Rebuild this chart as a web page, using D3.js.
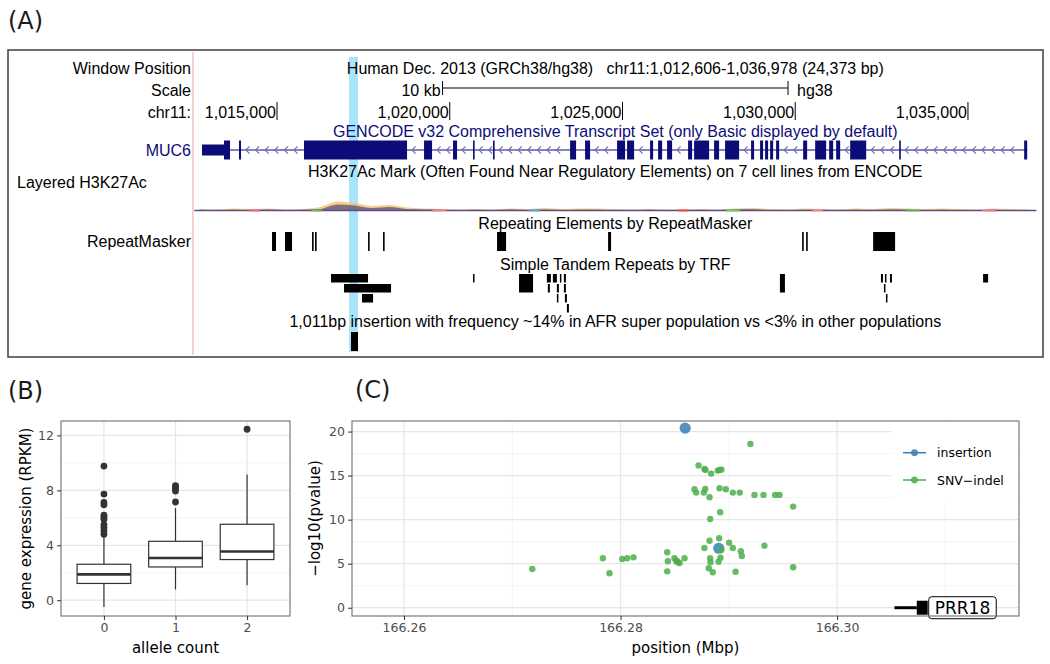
<!DOCTYPE html>
<html><head><meta charset="utf-8">
<script src="https://cdn.jsdelivr.net/npm/d3@7"></script>
<style>
body{margin:0;background:#fff;}
svg{display:block;}
text{white-space:pre;}
</style></head><body>
<svg id="chart" width="1050" height="664"></svg>
<script>
// ================= Panel A data (chr11 positions, kb) =================
const regionKb = [1012.606, 1036.978];
const chrTicksKb = [1015, 1020, 1025, 1030, 1035];
const scaleBarKb = 10;
const highlightKb = [1017.085, 1017.345];
const geneSpanKb = [1012.829, 1036.714];
const utrKb = [[1012.829, 1013.466]];
const exonsKb = [
  [1013.466,1013.640],[1013.900,1013.958],[1015.782,1018.764],[1019.256,1019.488],
  [1020.095,1020.211],[1020.674,1020.703],[1021.253,1021.282],[1023.483,1023.657],
  [1023.917,1024.062],[1024.843,1025.075],[1025.133,1025.336],[1025.799,1025.886],
  [1026.031,1026.147],[1026.291,1026.436],[1026.899,1027.015],[1027.073,1027.507],
  [1027.651,1027.796],[1027.970,1028.375],[1028.722,1028.809],[1028.983,1029.070],
  [1029.128,1029.215],[1029.273,1029.360],[1029.447,1029.534],[1030.229,1030.345],
  [1030.577,1030.895],[1030.982,1031.098],[1031.185,1031.301],[1031.590,1032.054],
  [1033.009,1033.038],[1036.627,1036.714]
];
const h3Pos = [1012.75,1013.25,1013.75,1014.25,1014.75,1015.25,1015.75,1016.25,1016.75,1017.25,
  1017.75,1018.25,1018.75,1019.25,1019.75,1020.25,1020.75,1021.25,1021.75,1022.25,
  1022.75,1023.25,1023.75,1024.25,1024.75,1025.25,1025.75,1026.25,1026.75,1027.25,
  1027.75,1028.25,1028.75,1029.25,1029.75,1030.25,1030.75,1031.25,1031.75,1032.25,
  1032.75,1033.25,1033.75,1034.25,1034.75,1035.25,1035.75,1036.25,1036.75];
const h3Light = [1.5,1,2,1.5,2,1,1.5,3.5,9,7.5,4.5,5.5,3,2,1.5,1,1.5,1,2,1.5,2.5,1.5,2,2,1.5,1,1.5,1,1,1.5,
  1,2,2.5,1.5,1,2,1.5,1,2,1.5,2.5,2,1.5,2,1.5,1,2,1.5,1];
const h3Dark = [0.8,0.5,0.8,0.5,1,0.5,0.8,1.5,6,5,2.5,3.5,1.5,1,0.8,0.5,0.8,0.5,1,0.5,1,0.5,0.8,0.8,0.5,
  0.5,0.8,0.5,0.5,0.8,0.5,1,1.2,0.5,0.5,0.8,0.8,0.5,0.8,0.5,1,0.8,0.5,0.8,0.5,0.5,0.8,0.5,0.5];
const h3BaseSegs = [[1014.2,1014.5,"#ee6677"],[1016.0,1016.3,"#66bb55"],[1019.5,1019.9,"#ff7f7f"],
  [1022.3,1022.6,"#55aadd"],[1026.6,1026.9,"#ee4444"],[1028.0,1028.4,"#66cc66"],
  [1030.5,1030.8,"#ff8888"],[1033.2,1033.6,"#55bb55"],[1035.4,1035.8,"#ee7799"]];
const rmskKb = [[1014.856,1014.971],[1015.232,1015.435],[1016.014,1016.043],[1016.101,1016.130],
  [1017.635,1017.680],[1018.069,1018.110],[1021.369,1021.630],[1024.583,1024.670],
  [1030.200,1030.244],[1030.316,1030.360],[1032.255,1032.891]];
// [start, end, row, rows spanned]
const trfKb = [[1016.564,1017.635,0,1],[1016.940,1018.301,1,1],[1017.461,1017.780,2,1],
  [1020.674,1020.703,0,1],[1022.006,1022.411,0,2],
  [1022.811,1022.927,0,1],[1022.985,1023.101,0,1],[1023.188,1023.217,0,1],[1023.304,1023.362,0,1],
  [1022.840,1022.898,1,1],[1023.101,1023.159,1,1],[1023.304,1023.362,1,1],
  [1023.101,1023.130,2,1],[1023.333,1023.391,2,1],[1023.391,1023.449,3,1],
  [1029.557,1029.702,0,2],
  [1032.481,1032.539,0,1],[1032.597,1032.626,0,1],[1032.742,1032.800,0,1],
  [1032.568,1032.597,1,1],[1032.626,1032.655,2,1],[1035.438,1035.583,0,1]];
const insertionKb = [1017.142, 1017.345];

// ================= Panel B data =================
const alleleCats = ["0","1","2"];
const boxLo  = [-0.5, 0.78, 1.09];
const boxQ1  = [1.22, 2.42, 2.96];
const boxMed = [1.88, 3.07, 3.55];
const boxQ3  = [2.62, 4.29, 5.53];
const boxHi  = [4.65, 6.71, 9.15];
const outliers = [
  [9.77,7.73,7.12,6.95,6.2,6.05,5.9,5.5,5.3,5.05,4.8],
  [8.35,8.25,8.1,7.95,7.15],
  [12.45]
];
const yTicksB = [0,4,8,12];

// ================= Panel C data =================
const snvPos = [166.27185,166.27837,166.27898,166.28016,166.28062,166.28120,166.28431,166.28437,166.28431,
  166.28498,166.28514,166.28522,166.28529,166.28545,166.28591,166.28720,166.28775,166.28785,166.28837,
  166.28683,166.28699,166.28782,166.28769,166.28822,166.28828,166.28775,166.28822,166.28828,166.28831,
  166.28815,166.28852,166.28898,166.28914,166.28932,166.29200,166.28914,166.28972,166.29037,166.29101,
  166.29237,166.29320,166.29428,166.29468,166.29594,166.28920,166.28911,166.29003,166.29037,166.29111,
  166.29120,166.29329,166.28930,166.28923,166.28905,166.29062,166.29594];
const snvVal = [4.40,5.61,3.91,5.53,5.61,5.72,6.29,5.27,4.13,
  5.61,5.34,5.25,5.16,5.08,5.61,16.14,15.76,15.65,15.23,
  13.45,13.07,13.49,13.07,12.55,10.08,6.78,7.61,5.61,5.16,
  4.48,4.02,15.57,15.65,15.68,18.60,13.57,13.45,13.07,13.07,
  12.81,12.81,12.81,12.81,11.48,10.84,7.88,7.39,6.78,6.41,
  5.88,7.05,6.56,5.68,5.23,4.09,4.59];
const insPos = [166.28597, 166.28907];
const insVal = [20.39, 6.75];
const prr18 = {start:166.3053, exonStart:166.30736, end:166.30837, label:"PRR18"};
const xTicksC = [166.26, 166.28, 166.30];
const yTicksC = [0,5,10,15,20];
const legendItems = [["insertion","#377EB8"],["SNV\u2212indel","#4DAF4A"]];

// ================= Drawing =================
const svg = d3.select("#chart");
svg.append("rect").attr("width",1050).attr("height",664).attr("fill","#fff");

const labFont = "'DejaVu Sans', sans-serif";
const ucsc = "'Liberation Sans', Arial, sans-serif";

function panelLabel(t,x,y){
  svg.append("text").attr("x",x).attr("y",y).text(t)
    .attr("font-family",labFont).attr("font-size",24).attr("fill","#1a1a1a");
}
panelLabel("(A)",8,29); panelLabel("(B)",8,399); panelLabel("(C)",355,398);

// ---------- Panel A ----------
const A = svg.append("g");
const gx = d3.scaleLinear().domain(regionKb).range([194.3, 1036.3]);
const cx = (gx.range()[0]+gx.range()[1])/2;

A.append("rect").attr("x",8).attr("y",50).attr("width",1035).attr("height",307)
  .attr("fill","none").attr("stroke","#4a4a4a").attr("stroke-width",1.6);
A.append("rect").attr("x",gx(highlightKb[0])).attr("y",57)
  .attr("width",gx(highlightKb[1])-gx(highlightKb[0])).attr("height",295).attr("fill","#a9e5fa");
A.append("line").attr("x1",193).attr("x2",193).attr("y1",52).attr("y2",355)
  .attr("stroke","#f4b0b0").attr("stroke-width",1.2);

function ut(t,x,y,anchor,color){
  return A.append("text").attr("x",x).attr("y",y).text(t).attr("text-anchor",anchor||"start")
    .attr("font-family",ucsc).attr("font-size",16).attr("fill",color||"#000");
}
ut("Window Position",191,74,"end");
ut("Human Dec. 2013 (GRCh38/hg38)   chr11:1,012,606-1,036,978 (24,373 bp)",cx,74,"middle");
ut("Scale",191,96,"end");
const sb0 = (regionKb[0]+regionKb[1])/2 - scaleBarKb/2, sb1 = sb0 + scaleBarKb;
A.append("line").attr("x1",gx(sb0)).attr("x2",gx(sb1)).attr("y1",88).attr("y2",88).attr("stroke","#000");
[sb0,sb1].forEach(v=>A.append("line").attr("x1",gx(v)).attr("x2",gx(v)).attr("y1",81).attr("y2",95).attr("stroke","#000"));
ut("10 kb",gx(sb0)-2,96,"end");
ut("hg38",gx(sb1)+9,96,"start");
ut("chr11:",191,118,"end");
const fmtBp = d3.format(",");
chrTicksKb.forEach(k=>{
  A.append("line").attr("x1",gx(k)).attr("x2",gx(k)).attr("y1",102).attr("y2",120).attr("stroke","#000");
  ut(fmtBp(Math.round(k*1000)),gx(k)-1,118,"end");
});
const navy = "#0c0c78";
ut("GENCODE v32 Comprehensive Transcript Set (only Basic displayed by default)",cx,137,"middle",navy);
ut("MUC6",191,156,"end",navy);
const gy = 150;
A.append("line").attr("x1",gx(geneSpanKb[0])).attr("x2",gx(geneSpanKb[1])).attr("y1",gy).attr("y2",gy)
  .attr("stroke",navy).attr("stroke-width",1.2);
const blocks = utrKb.concat(exonsKb).map(d=>[gx(d[0]),gx(d[1])]).sort((a,b)=>a[0]-b[0]);
for(let i=0;i<blocks.length-1;i++){
  const s=blocks[i][1], e=blocks[i+1][0];
  for(let p=s+6; p<e-3; p+=9.6){
    A.append("path").attr("d",`M${p+2.5},${gy-3.6}L${p-1},${gy}L${p+2.5},${gy+3.6}`)
      .attr("fill","none").attr("stroke","#6a6ac0").attr("stroke-width",1.1);
  }
}
utrKb.forEach(d=>A.append("rect").attr("x",gx(d[0])).attr("y",gy-5.5)
  .attr("width",gx(d[1])-gx(d[0])).attr("height",11).attr("fill",navy));
exonsKb.forEach(d=>{
  const w=Math.max(1.6,gx(d[1])-gx(d[0]));
  A.append("rect").attr("x",gx(d[0])).attr("y",gy-9.5).attr("width",w).attr("height",19).attr("fill",navy);
});
ut("H3K27Ac Mark (Often Found Near Regulatory Elements) on 7 cell lines from ENCODE",cx,177,"middle");
ut("Layered H3K27Ac",17,188,"start");
const hBase = 210.5;
const h3Data = h3Pos.map((p,i)=>({p, l:h3Light[i], d:h3Dark[i]}));
const areaL = d3.area().x(d=>gx(d.p)).y0(hBase).y1(d=>hBase-d.l).curve(d3.curveMonotoneX);
const areaD = d3.area().x(d=>gx(d.p)).y0(hBase).y1(d=>hBase-d.d).curve(d3.curveMonotoneX);
A.append("path").datum(h3Data).attr("d",areaL).attr("fill","#f7c066").attr("opacity",0.8);
A.append("path").datum(h3Data).attr("d",areaD).attr("fill","#5a4c86").attr("opacity",0.75);
A.append("line").attr("x1",gx(regionKb[0])).attr("x2",gx(regionKb[1])).attr("y1",hBase).attr("y2",hBase)
  .attr("stroke","#5b4f8a").attr("stroke-width",1.6);
h3BaseSegs.forEach(s=>A.append("line").attr("x1",gx(s[0])).attr("x2",gx(s[1])).attr("y1",hBase).attr("y2",hBase)
  .attr("stroke",s[2]).attr("stroke-width",1.8));
ut("Repeating Elements by RepeatMasker",cx,228.5,"middle");
ut("RepeatMasker",191,247,"end");
rmskKb.forEach(d=>{
  const w=Math.max(1.6,gx(d[1])-gx(d[0]));
  A.append("rect").attr("x",gx(d[0])).attr("y",232).attr("width",w).attr("height",19).attr("fill","#000");
});
ut("Simple Tandem Repeats by TRF",cx,270,"middle");
const trfTop = 274, trfRow = 10;
trfKb.forEach(d=>{
  const w=Math.max(1.5,gx(d[1])-gx(d[0]));
  A.append("rect").attr("x",gx(d[0])).attr("y",trfTop+d[2]*trfRow).attr("width",w)
    .attr("height",d[3]*trfRow-1.5).attr("fill","#000");
});
ut("1,011bp insertion with frequency ~14% in AFR super population vs <3% in other populations",cx,327,"middle");
A.append("rect").attr("x",gx(insertionKb[0])).attr("y",332)
  .attr("width",gx(insertionKb[1])-gx(insertionKb[0])).attr("height",19).attr("fill","#000");

// ---------- shared ggplot helpers ----------
const gg = "'DejaVu Sans', sans-serif";
const majorC="#e6e6e6", minorC="#f2f2f2";

// ---------- Panel B ----------
const B = svg.append("g");
const bL=61,bR=290,bT=421,bB=616;
const xB = d3.scalePoint().domain(alleleCats).range([bL,bR]).padding(0.6);
const yB = d3.scaleLinear().domain([-1.15,13.05]).range([bB,bT]);
const bw = xB.step()*0.75;
[2,6,10].forEach(v=>B.append("line").attr("x1",bL).attr("x2",bR).attr("y1",yB(v)).attr("y2",yB(v)).attr("stroke",minorC).attr("stroke-width",0.8));
yTicksB.forEach(v=>B.append("line").attr("x1",bL).attr("x2",bR).attr("y1",yB(v)).attr("y2",yB(v)).attr("stroke",majorC).attr("stroke-width",1.2));
alleleCats.forEach(c=>B.append("line").attr("x1",xB(c)).attr("x2",xB(c)).attr("y1",bT).attr("y2",bB).attr("stroke",majorC).attr("stroke-width",1.2));
alleleCats.forEach((c,i)=>{
  const x=xB(c), st="#333";
  B.append("line").attr("x1",x).attr("x2",x).attr("y1",yB(boxLo[i])).attr("y2",yB(boxQ1[i])).attr("stroke",st).attr("stroke-width",1.2);
  B.append("line").attr("x1",x).attr("x2",x).attr("y1",yB(boxQ3[i])).attr("y2",yB(boxHi[i])).attr("stroke",st).attr("stroke-width",1.2);
  B.append("rect").attr("x",x-bw/2).attr("y",yB(boxQ3[i])).attr("width",bw).attr("height",yB(boxQ1[i])-yB(boxQ3[i]))
    .attr("fill","#fff").attr("stroke",st).attr("stroke-width",1.2);
  B.append("line").attr("x1",x-bw/2).attr("x2",x+bw/2).attr("y1",yB(boxMed[i])).attr("y2",yB(boxMed[i])).attr("stroke",st).attr("stroke-width",2.6);
  outliers[i].forEach(v=>B.append("circle").attr("cx",x).attr("cy",yB(v)).attr("r",3.4).attr("fill","#333"));
});
B.append("rect").attr("x",bL).attr("y",bT).attr("width",bR-bL).attr("height",bB-bT).attr("fill","none").attr("stroke","#6e6e6e").attr("stroke-width",1.1);
const axB = B.append("g").attr("transform",`translate(${bL},0)`).call(d3.axisLeft(yB).tickValues(yTicksB).tickSize(4).tickPadding(3));
const axBx = B.append("g").attr("transform",`translate(0,${bB})`).call(d3.axisBottom(xB).tickSize(4).tickPadding(3));
[axB,axBx].forEach(a=>{a.select(".domain").remove();a.selectAll("line").attr("stroke","#333");
  a.selectAll("text").attr("font-family",gg).attr("font-size",12.5).attr("fill","#4d4d4d");});
B.append("text").attr("x",(bL+bR)/2).attr("y",653).attr("text-anchor","middle").text("allele count")
  .attr("font-family",gg).attr("font-size",15);
B.append("text").attr("transform",`translate(31,${(bT+bB)/2}) rotate(-90)`).attr("text-anchor","middle")
  .text("gene expression (RPKM)").attr("font-family",gg).attr("font-size",15);

// ---------- Panel C ----------
const C = svg.append("g");
const cL=352,cR=1019,cT=421,cB=616;
const xC = d3.scaleLinear().domain([166.2552,166.3168]).range([cL,cR]);
const yC = d3.scaleLinear().domain([-0.94,21.2]).range([cB,cT]);
[2.5,7.5,12.5,17.5].forEach(v=>C.append("line").attr("x1",cL).attr("x2",cR).attr("y1",yC(v)).attr("y2",yC(v)).attr("stroke",minorC).attr("stroke-width",0.8));
[166.27,166.29,166.31].forEach(v=>C.append("line").attr("x1",xC(v)).attr("x2",xC(v)).attr("y1",cT).attr("y2",cB).attr("stroke",minorC).attr("stroke-width",0.8));
yTicksC.forEach(v=>C.append("line").attr("x1",cL).attr("x2",cR).attr("y1",yC(v)).attr("y2",yC(v)).attr("stroke",majorC).attr("stroke-width",1.2));
xTicksC.forEach(v=>C.append("line").attr("x1",xC(v)).attr("x2",xC(v)).attr("y1",cT).attr("y2",cB).attr("stroke",majorC).attr("stroke-width",1.2));
const lgX=892, lgY=422;
C.append("rect").attr("x",lgX).attr("y",lgY).attr("width",cR-lgX-1).attr("height",79).attr("fill","#fff");
insPos.forEach((p,i)=>C.append("circle").attr("cx",xC(p)).attr("cy",yC(insVal[i])).attr("r",5.6)
  .attr("fill","#377EB8").attr("fill-opacity",0.85));
snvPos.forEach((p,i)=>C.append("circle").attr("cx",xC(p)).attr("cy",yC(snvVal[i])).attr("r",3.2)
  .attr("fill","#4DAF4A").attr("fill-opacity",0.85));
const g0=yC(0);
C.append("line").attr("x1",xC(prr18.start)).attr("x2",xC(prr18.exonStart)).attr("y1",g0).attr("y2",g0).attr("stroke","#000").attr("stroke-width",3);
C.append("rect").attr("x",xC(prr18.exonStart)).attr("y",g0-7).attr("width",xC(prr18.end)-xC(prr18.exonStart)).attr("height",14).attr("fill","#000");
const lbl = C.append("g");
const lblText = lbl.append("text").attr("x",xC(prr18.end)+7).attr("y",g0+6.5).text(prr18.label)
  .attr("font-family",gg).attr("font-size",17).attr("fill","#000");
const tw = lblText.node().getComputedTextLength();
lbl.insert("rect","text").attr("x",xC(prr18.end)+1).attr("y",g0-11).attr("width",tw+12).attr("height",22)
  .attr("rx",3).attr("fill","#fff").attr("stroke","#000").attr("stroke-width",1);
legendItems.forEach((d,i)=>{
  const y = 452.7 + i*27.3;
  C.append("line").attr("x1",903).attr("x2",926).attr("y1",y).attr("y2",y).attr("stroke",d[1]).attr("stroke-width",1.5);
  C.append("circle").attr("cx",914.5).attr("cy",y).attr("r",3.4).attr("fill",d[1]).attr("fill-opacity",0.85);
  C.append("text").attr("x",937).attr("y",y+4.5).text(d[0]).attr("font-family",gg).attr("font-size",12.5);
});
C.append("rect").attr("x",cL).attr("y",cT).attr("width",cR-cL).attr("height",cB-cT).attr("fill","none").attr("stroke","#6e6e6e").attr("stroke-width",1.1);
const axC = C.append("g").attr("transform",`translate(${cL},0)`).call(d3.axisLeft(yC).tickValues(yTicksC).tickSize(4).tickPadding(3));
const axCx = C.append("g").attr("transform",`translate(0,${cB})`).call(d3.axisBottom(xC).tickValues(xTicksC).tickFormat(d3.format(".2f")).tickSize(4).tickPadding(3));
[axC,axCx].forEach(a=>{a.select(".domain").remove();a.selectAll("line").attr("stroke","#333");
  a.selectAll("text").attr("font-family",gg).attr("font-size",12.5).attr("fill","#4d4d4d");});
C.append("text").attr("x",(cL+cR)/2).attr("y",653).attr("text-anchor","middle").text("position (Mbp)")
  .attr("font-family",gg).attr("font-size",15);
C.append("text").attr("transform",`translate(320,${(cT+cB)/2}) rotate(-90)`).attr("text-anchor","middle")
  .text("\u2212log10(pvalue)").attr("font-family",gg).attr("font-size",15);
</script></body></html>
